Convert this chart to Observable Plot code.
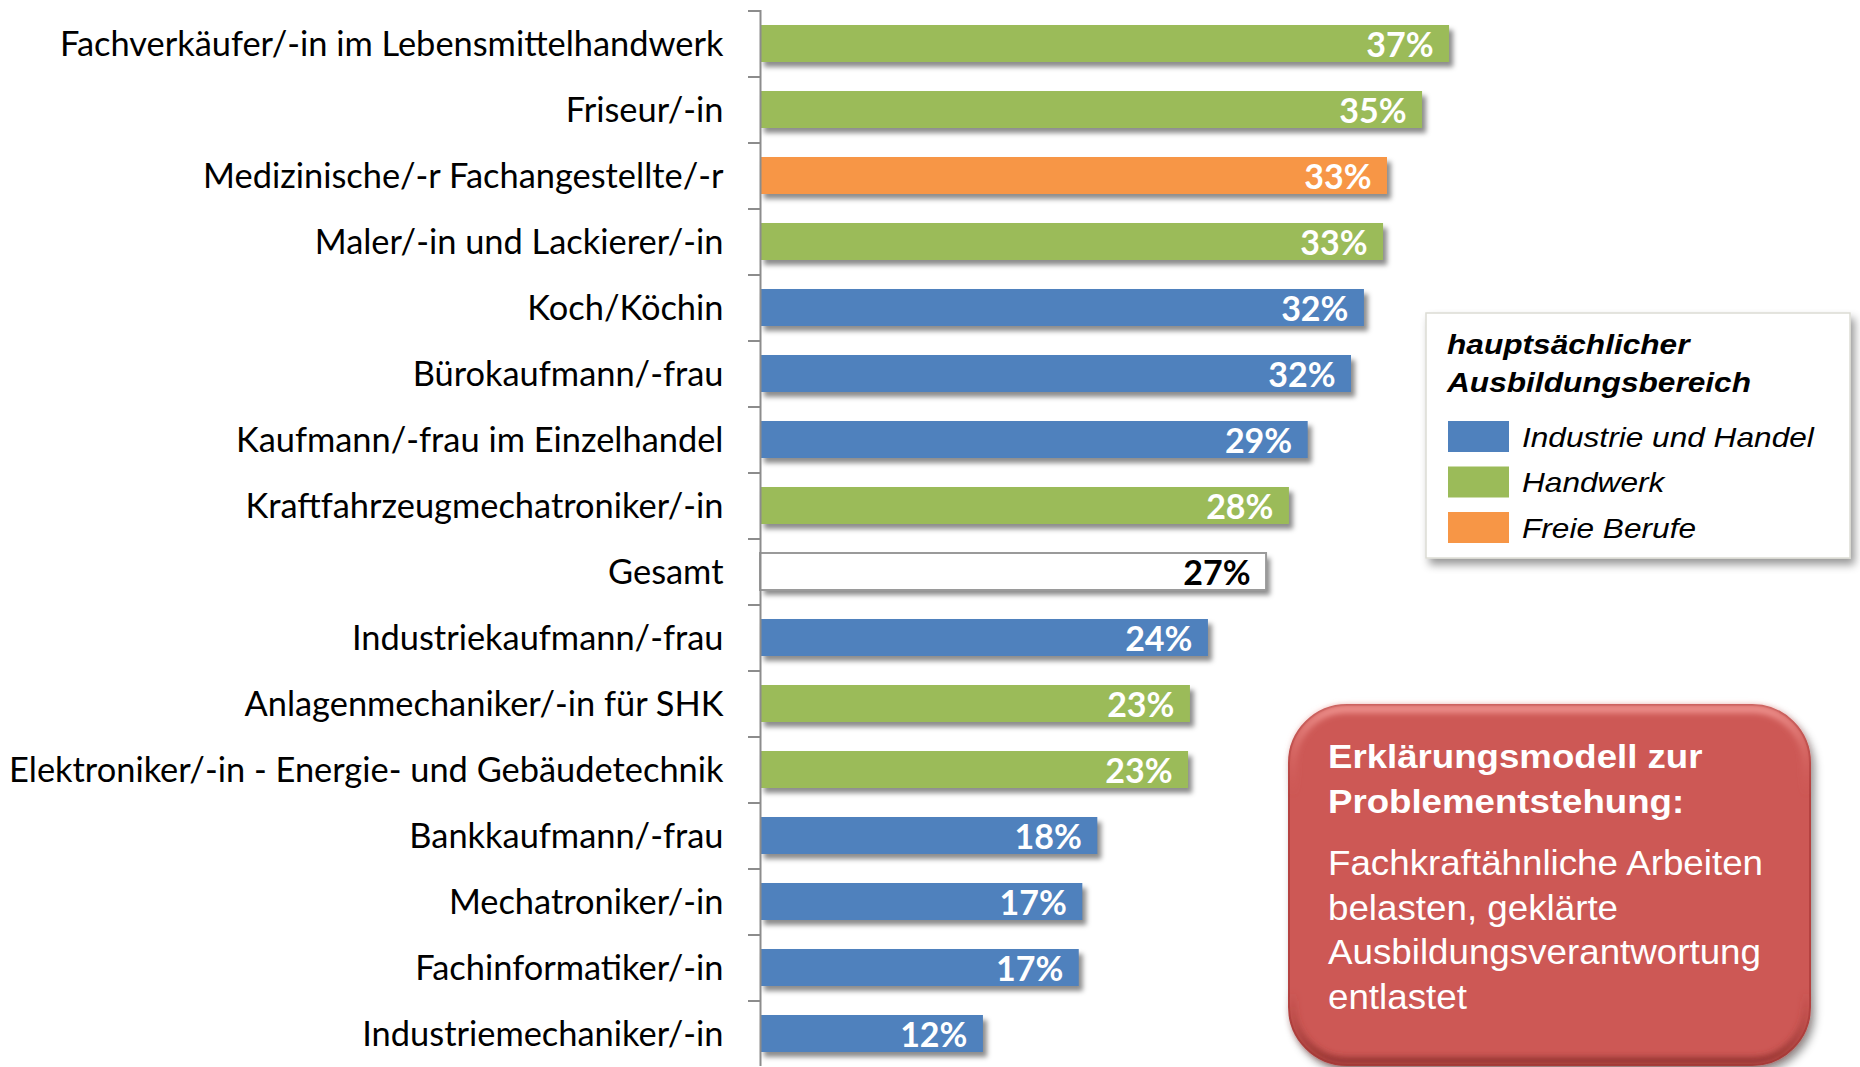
<!DOCTYPE html>
<html>
<head>
<meta charset="utf-8">
<script src="https://cdn.jsdelivr.net/npm/d3@7"></script>
<script src="https://cdn.jsdelivr.net/npm/@observablehq/plot@0.6"></script>
<style>
  html, body { margin: 0; padding: 0; background: #fff; overflow: hidden; }
  #wrap { position: relative; width: 1860px; height: 1067px; }
  #chart { position: absolute; left: 0; top: 0; }
  #overlay { position: absolute; left: 0; top: 0; pointer-events: none; }
</style>
</head>
<body>
<div id="wrap">
  <div id="chart"></div>
  <svg id="overlay" width="1860" height="1067" xmlns="http://www.w3.org/2000/svg">
    <defs>
      <filter id="boxShadow" x="-10%" y="-10%" width="130%" height="130%">
        <feDropShadow dx="4" dy="6" stdDeviation="4" flood-color="#000" flood-opacity="0.4"/>
      </filter>
      <filter id="softBlur" x="-10%" y="-10%" width="120%" height="120%">
        <feGaussianBlur stdDeviation="3"/>
      </filter>
      <linearGradient id="bevel" x1="0" y1="0" x2="0" y2="1">
        <stop offset="0" stop-color="#F39A96"/>
        <stop offset="0.25" stop-color="#D25E5A" stop-opacity="0"/>
        <stop offset="0.8" stop-color="#A03C39" stop-opacity="0"/>
        <stop offset="1" stop-color="#8E302D"/>
      </linearGradient>
    </defs>
    <g id="legend"></g>
    <g id="note"></g>
  </svg>
</div>
<script>
// ---------- data ----------
const categories = [
  "Fachverkäufer/-in im Lebensmittelhandwerk",
  "Friseur/-in",
  "Medizinische/-r Fachangestellte/-r",
  "Maler/-in und Lackierer/-in",
  "Koch/Köchin",
  "Bürokaufmann/-frau",
  "Kaufmann/-frau im Einzelhandel",
  "Kraftfahrzeugmechatroniker/-in",
  "Gesamt",
  "Industriekaufmann/-frau",
  "Anlagenmechaniker/-in für SHK",
  "Elektroniker/-in - Energie- und Gebäudetechnik",
  "Bankkaufmann/-frau",
  "Mechatroniker/-in",
  "Fachinformatiker/-in",
  "Industriemechaniker/-in"
];
const values = [36.75, 35.31, 33.44, 33.23, 32.21, 31.52, 29.21, 28.21, 26.99, 23.89, 22.93, 22.83, 17.99, 17.19, 17.0, 11.89];
const groups = [
  "Handwerk", "Handwerk", "Freie Berufe", "Handwerk", "Industrie und Handel",
  "Industrie und Handel", "Industrie und Handel", "Handwerk", "Gesamt",
  "Industrie und Handel", "Handwerk", "Handwerk", "Industrie und Handel",
  "Industrie und Handel", "Industrie und Handel", "Industrie und Handel"
];
const legendTitle = ["hauptsächlicher", "Ausbildungsbereich"];
const legendGroups = ["Industrie und Handel", "Handwerk", "Freie Berufe"];
const legendColors = ["#4F81BD", "#9BBB59", "#F79646"];
const noteTitle = ["Erklärungsmodell zur", "Problementstehung:"];
const noteBody = ["Fachkraftähnliche Arbeiten", "belasten, geklärte", "Ausbildungsverantwortung", "entlastet"];

// ---------- chart ----------
const data = categories.map((c, i) => ({category: c, value: values[i], group: groups[i]}));
const W = 1860, H = 1067, MT = 10, MB = 1;
const step = (H - MT - MB) / categories.length;

const chart = Plot.plot({
  width: W,
  height: H,
  marginLeft: 760,
  marginRight: 162.5,
  marginTop: MT,
  marginBottom: MB,
  style: {fontFamily: "Lato, 'Open Sans', sans-serif", color: "#000", background: "transparent"},
  x: {domain: [0, 50], axis: null},
  y: {domain: categories, paddingInner: 0.445, paddingOuter: 0.2225, axis: null},
  color: {domain: legendGroups, range: legendColors},
  marks: [
    Plot.barX(data, {y: "category", x: "value", fill: "#000", fillOpacity: 0.45, dx: 4, dy: 5}),
    Plot.barX(data, {filter: d => d.group !== "Gesamt", y: "category", x: "value", fill: "group"}),
    Plot.barX(data, {filter: d => d.group === "Gesamt", y: "category", x: "value", fill: "#fff", stroke: "#9a9a9a", strokeWidth: 2}),
    Plot.text(data, {filter: d => d.group !== "Gesamt", y: "category", x: "value", text: d => Math.round(d.value) + "%",
      textAnchor: "end", dx: -16, dy: 2, fill: "#fff", fontWeight: "bold", fontSize: 34}),
    Plot.text(data, {filter: d => d.group === "Gesamt", y: "category", x: "value", text: d => Math.round(d.value) + "%",
      textAnchor: "end", dx: -16, dy: 2, fill: "#000", fontWeight: "bold", fontSize: 34}),
    Plot.ruleX([0], {stroke: "#8c8c8c", strokeWidth: 2}),
    Plot.axisY({tickSize: 12, tickFormat: () => "", label: null, dy: -step / 2, stroke: "#8c8c8c", strokeWidth: 2}),
    Plot.axisY({tickSize: 0, tickPadding: 37, label: null, fontSize: 34.4, dy: 1, fill: "#000"})
  ]
});
document.getElementById("chart").appendChild(chart);

// blur the shadow bars
(function () {
  const svg = d3.select(chart);
  const defs = svg.insert("defs", ":first-child");
  defs.append("filter").attr("id", "barBlur").attr("x", "-5%").attr("y", "-30%").attr("width", "115%").attr("height", "180%")
    .append("feGaussianBlur").attr("stdDeviation", 2.5);
  const bars = svg.selectAll("g[aria-label='bar']").nodes();
  if (bars.length) d3.select(bars[0]).attr("filter", "url(#barBlur)");
})();

// ---------- legend ----------
(function () {
  const g = d3.select("#legend");
  g.append("rect").attr("x", 1426).attr("y", 313).attr("width", 424).attr("height", 245)
    .attr("fill", "#fff").attr("stroke", "#dcdcd4").attr("stroke-width", 1.5).attr("filter", "url(#boxShadow)");
  legendTitle.forEach((t, i) => {
    g.append("text").attr("transform", `translate(1447,${354 + i * 38}) scale(1.13,1)`)
      .attr("font-family", "'Liberation Sans', Arial, sans-serif").attr("font-size", 28)
      .attr("font-weight", "bold").attr("font-style", "italic").attr("fill", "#000").text(t);
  });
  legendGroups.forEach((t, i) => {
    const cy = 436.5 + i * 45.5;
    g.append("rect").attr("x", 1448).attr("y", cy - 15.5).attr("width", 61).attr("height", 31).attr("fill", legendColors[i]);
    g.append("text").attr("transform", `translate(1522,${cy + 10}) scale(1.13,1)`)
      .attr("font-family", "'Liberation Sans', Arial, sans-serif").attr("font-size", 28)
      .attr("font-style", "italic").attr("fill", "#000").text(t);
  });
})();

// ---------- note box ----------
(function () {
  const g = d3.select("#note");
  g.append("rect").attr("x", 1289).attr("y", 705).attr("width", 521).attr("height", 360).attr("rx", 58)
    .attr("fill", "#CD5854").attr("stroke", "#B5423F").attr("stroke-width", 2).attr("filter", "url(#boxShadow)");
  g.append("rect").attr("x", 1293).attr("y", 709).attr("width", 513).attr("height", 352).attr("rx", 54)
    .attr("fill", "none").attr("stroke", "url(#bevel)").attr("stroke-width", 7).attr("filter", "url(#softBlur)");
  noteTitle.forEach((t, i) => {
    g.append("text").attr("transform", `translate(1328,${768 + i * 45}) scale(1.11,1)`)
      .attr("font-family", "'Liberation Sans', Arial, sans-serif").attr("font-size", 33)
      .attr("font-weight", "bold").attr("fill", "#fff").text(t);
  });
  noteBody.forEach((t, i) => {
    g.append("text").attr("transform", `translate(1328,${875 + i * 44.6}) scale(1.05,1)`)
      .attr("font-family", "'Liberation Sans', Arial, sans-serif").attr("font-size", 35)
      .attr("fill", "#fff").text(t);
  });
})();
</script>
</body>
</html>
